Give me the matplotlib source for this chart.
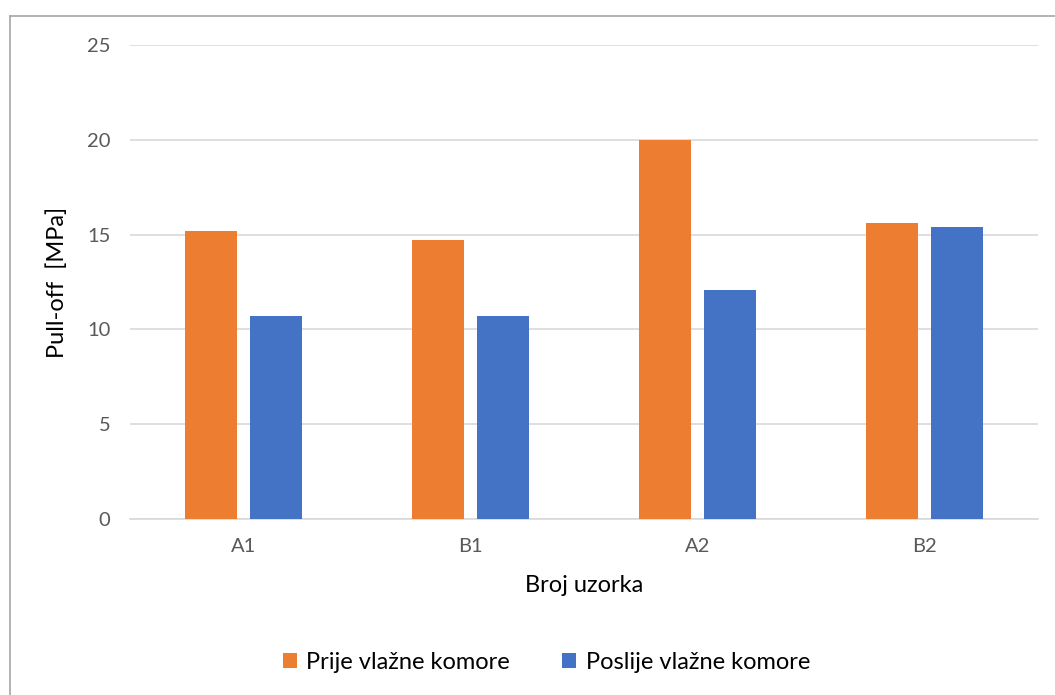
import matplotlib.pyplot as plt
import numpy as np
from matplotlib.lines import Line2D

categories = ['A1', 'B1', 'A2', 'B2']
prije = [15.2, 14.7, 20.0, 15.6]
poslije = [10.7, 10.7, 12.1, 15.4]

plt.rcParams['font.family'] = ['Lato', 'DejaVu Sans']

fig = plt.figure(figsize=(10.55, 6.95), dpi=100)
ax = fig.add_axes([130 / 1055, 176 / 695, 908 / 1055, 474 / 695])

# outer chart border (only top and left visible, rest is cropped)
bx, by = 10 / 1055, 1 - 16 / 695
fig.lines.append(Line2D([bx, 1], [by, by], transform=fig.transFigure,
                        color='#a6a6a6', linewidth=1.2))
fig.lines.append(Line2D([bx, bx], [0, by], transform=fig.transFigure,
                        color='#a6a6a6', linewidth=1.2))

x = np.arange(len(categories))
w = 0.226
ax.bar(x - 0.143, prije, w, color='#ed7d31', label='Prije vlažne komore', zorder=3)
ax.bar(x + 0.143, poslije, w, color='#4472c4', label='Poslije vlažne komore', zorder=3)

ax.set_xlim(-0.5, 3.5)
ax.set_ylim(0, 25)
ax.set_yticks(range(0, 26, 5))
ax.set_xticks(x)
ax.set_xticklabels(categories)
ax.yaxis.grid(True, color='#d9d9d9', linewidth=1.2, zorder=0)
for s in ['top', 'right', 'left']:
    ax.spines[s].set_visible(False)
ax.spines['bottom'].set_color('#d9d9d9')
ax.spines['bottom'].set_linewidth(1.2)
ax.tick_params(axis='both', length=0, labelsize=14.5, labelcolor='#595959')
ax.tick_params(axis='x', pad=14)
ax.tick_params(axis='y', pad=14)

ax.set_xlabel('Broj uzorka', fontsize=17, labelpad=14)
ax.set_ylabel('Pull-off  [MPa]', fontsize=17, labelpad=14)

fig.legend(loc='center', bbox_to_anchor=(0.518, 0.047), ncol=2, frameon=False,
           fontsize=17, handlelength=0.6, handleheight=0.6, columnspacing=2.2,
           handletextpad=0.4)

fig.savefig('out.png', dpi=100)
